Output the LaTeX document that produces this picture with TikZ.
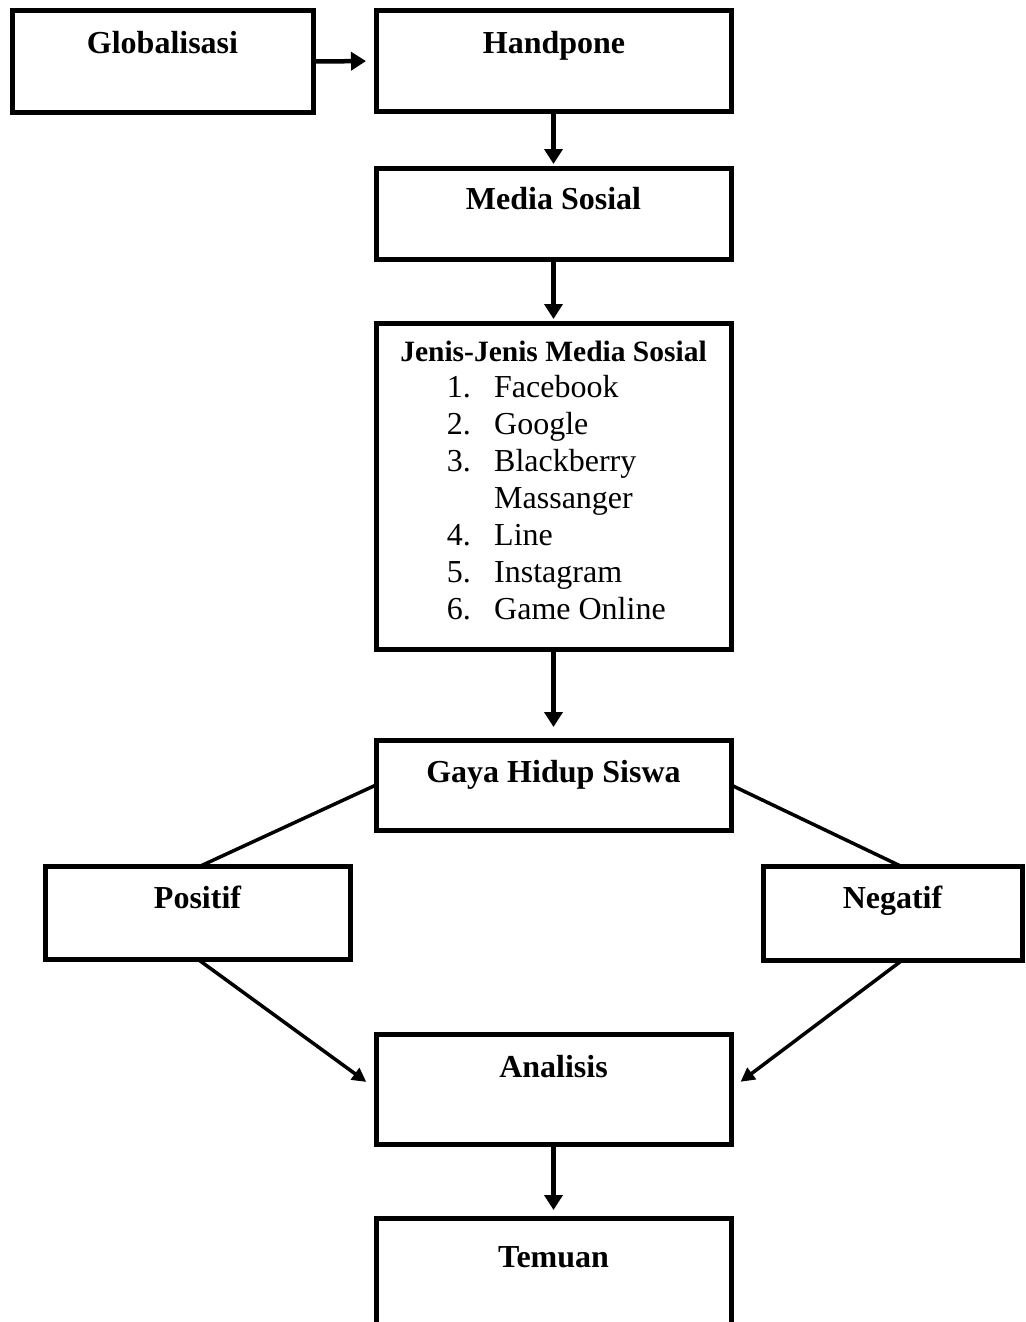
\documentclass[tikz,border=0pt]{standalone}
\usepackage{fontspec}
\setmainfont{Liberation Serif}
\usetikzlibrary{arrows.meta}
\begin{document}
\begin{tikzpicture}[x=1pt,y=-1pt,
  box/.style={draw=black,line width=5pt,rectangle,inner sep=0pt,outer sep=0pt},
  lbl/.style={anchor=base,inner sep=0pt,font=\fontsize{32}{37}\selectfont\bfseries},
  item/.style={anchor=base west,inner sep=0pt,font=\fontsize{32}{37}\selectfont},
  num/.style={anchor=base east,inner sep=0pt,font=\fontsize{32}{37}\selectfont},
  arr/.style={line width=4.5pt,-{Triangle[length=15pt,width=18pt]}},
  darr/.style={line width=3.5pt,-{Triangle[length=14pt,width=14pt]}},
  conn/.style={line width=3.5pt}]
\clip (0,0) rectangle (1025,1322);
\fill[white] (0,0) rectangle (1025,1322);
% boxes
\node[box,minimum width=301pt,minimum height=101pt] (glob) at (162.5,61.5) {};
\node[box,minimum width=355pt,minimum height=100pt] (hand) at (553.5,61) {};
\node[box,minimum width=355pt,minimum height=91pt] (media) at (553.5,213.5) {};
\node[box,minimum width=355pt,minimum height=326pt] (jenis) at (553.5,486) {};
\node[box,minimum width=355pt,minimum height=90pt] (gaya) at (553.5,785) {};
\node[box,minimum width=305pt,minimum height=93pt] (pos) at (197.5,912.5) {};
\node[box,minimum width=259pt,minimum height=94pt] (neg) at (892.5,913) {};
\node[box,minimum width=355pt,minimum height=110pt] (ana) at (553.5,1089) {};
\node[box,minimum width=355pt,minimum height=122pt] (tem) at (553.5,1279) {};
% labels
\node[lbl] (tglob) at (162.5,53) {Globalisasi};
\node[lbl] (thand) at (554,53) {Handpone};
\node[lbl] (tmedia) at (553.5,209) {Media Sosial};
\node[lbl,font=\fontsize{29.5}{35}\selectfont\bfseries] (tjenis) at (553.5,361) {Jenis-Jenis Media Sosial};
\node[num] (n1) at (471,397) {1.};
\node[item] (i1) at (494,397) {Facebook};
\node[num] (n2) at (471,434) {2.};
\node[item] (i2) at (494,434) {Google};
\node[num] (n3) at (471,471) {3.};
\node[item] (i3) at (494,471) {Blackberry};
\node[item] (i3b) at (494,508) {Massanger};
\node[num] (n4) at (471,545) {4.};
\node[item] (i4) at (494,545) {Line};
\node[num] (n5) at (471,582) {5.};
\node[item] (i5) at (494,582) {Instagram};
\node[num] (n6) at (471,619) {6.};
\node[item] (i6) at (494,619) {Game Online};
\node[lbl] (tgaya) at (553.5,782) {Gaya Hidup Siswa};
\node[lbl] (tpos) at (197.5,908) {Positif};
\node[lbl] (tneg) at (892.5,908) {Negatif};
\node[lbl] (tana) at (553.5,1077) {Analisis};
\node[lbl] (ttem) at (553.5,1267) {Temuan};
% connectors
\draw[arr,shorten >=10pt] (glob.east) -- (hand.west);
\draw[arr,shorten >=4pt] (hand.south) -- (media.north);
\draw[arr,shorten >=4pt] (media.south) -- (jenis.north);
\draw[arr,shorten >=13pt] (jenis.south) -- (gaya.north);
\coordinate (negtop) at ([xshift=8pt]neg.north);
\coordinate (negbot) at ([xshift=10pt]neg.south);
\coordinate (postop) at ([xshift=3pt]pos.north);
\draw[conn] (gaya.west) -- (postop);
\draw[conn] (gaya.east) -- (negtop);
\draw[darr,shorten >=12pt] (pos.south) -- (ana.west);
\draw[darr,shorten >=12pt] (negbot) -- (ana.east);
\draw[arr,shorten >=8pt] (ana.south) -- (tem.north);
\end{tikzpicture}
\end{document}
